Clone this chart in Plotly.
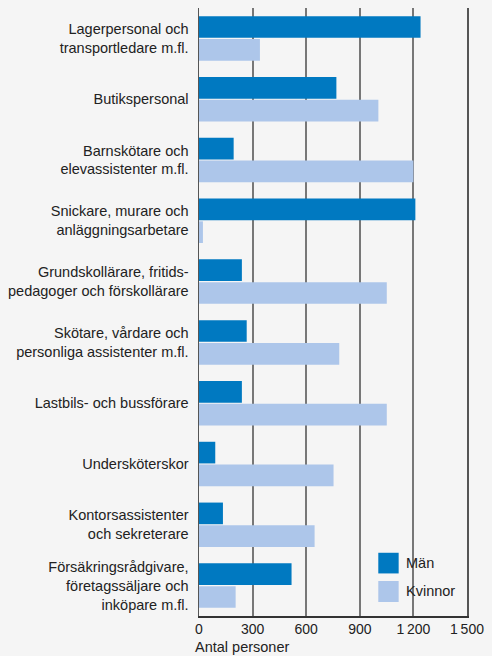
import plotly.graph_objects as go

categories = [
    "Lagerpersonal och<br>transportledare m.fl.",
    "Butikspersonal",
    "Barnskötare och<br>elevassistenter m.fl.",
    "Snickare, murare och<br>anläggningsarbetare",
    "Grundskollärare, fritids-<br>pedagoger och förskollärare",
    "Skötare, vårdare och<br>personliga assistenter m.fl.",
    "Lastbils- och bussförare",
    "Undersköterskor",
    "Kontorsassistenter<br>och sekreterare",
    "Försäkringsrådgivare,<br>företagssäljare och<br>inköpare m.fl.",
]
man = [1240, 769, 194, 1211, 240, 267, 240, 91, 134, 518]
kvinnor = [341, 1004, 1200, 22, 1051, 785, 1051, 753, 647, 205]
tick_vals = [0, 300, 600, 900, 1200, 1500]
tick_text = ["0", "300", "600", "900", "1\u2009200", "1\u2009500"]
series_names = ["Män", "Kvinnor"]
colors = ["#0079c1", "#adc6ea"]

BG = "#f5f5f5"
FONT = "Liberation Sans"

fig = go.Figure()
fig.add_trace(go.Bar(y=categories, x=man, orientation="h", name=series_names[0],
                     marker=dict(color=colors[0], line=dict(width=0)), hoverinfo="skip"))
fig.add_trace(go.Bar(y=categories, x=kvinnor, orientation="h", name=series_names[1],
                     marker=dict(color=colors[1], line=dict(width=0)), hoverinfo="skip"))

fig.update_layout(
    width=492, height=656,
    margin=dict(l=197, r=20, t=8, b=40),
    paper_bgcolor=BG, plot_bgcolor=BG,
    barmode="group", bargap=0.25, bargroupgap=0.05,
    showlegend=False, hovermode=False, dragmode=False,
    font=dict(family=FONT, size=14, color="#222"),
)
fig.update_xaxes(
    range=[0, 1500], tickvals=tick_vals, ticktext=tick_text,
    showgrid=True, gridcolor="#777", gridwidth=2,
    showline=True, linecolor="#333", linewidth=1.5,
    ticks="", zeroline=False, fixedrange=True,
    tickfont=dict(size=14, color="#222"),
)
fig.update_yaxes(
    autorange="reversed", fixedrange=True,
    showline=True, mirror=True, linecolor="#555", linewidth=1.5,
    ticks="outside", ticklen=6, tickcolor=BG,
    tickfont=dict(size=14.5, color="#222"),
)

# legend box (manual, to match large square swatches)
fig.add_shape(type="rect", xref="paper", yref="paper", x0=0.65, x1=0.975, y0=0.0148, y1=0.115,
              fillcolor=BG, line=dict(width=0), layer="between")
legend_rows = [(0.104, 0.070), (0.0576, 0.023)]
for (y1, y0), name, c in zip(legend_rows, series_names, colors):
    fig.add_shape(type="rect", xref="paper", yref="paper", x0=0.669, x1=0.745, y0=y0, y1=y1,
                  fillcolor=c, line=dict(width=0), layer="above")
    fig.add_annotation(xref="paper", yref="paper", x=0.764, y=(y0 + y1) / 2, text=name,
                       showarrow=False, xanchor="left", yanchor="middle",
                       font=dict(size=14.5, color="#222"))

fig.add_annotation(xref="paper", yref="paper", x=0, y=0, yshift=-21, xshift=-6,
                   text="Antal personer", showarrow=False, xanchor="left", yanchor="top",
                   font=dict(size=14.5, color="#222"))

fig.write_html("out.html", config={"displayModeBar": False, "staticPlot": True},
               post_script="document.body.style.margin='0';document.body.style.background='%s';" % BG)
